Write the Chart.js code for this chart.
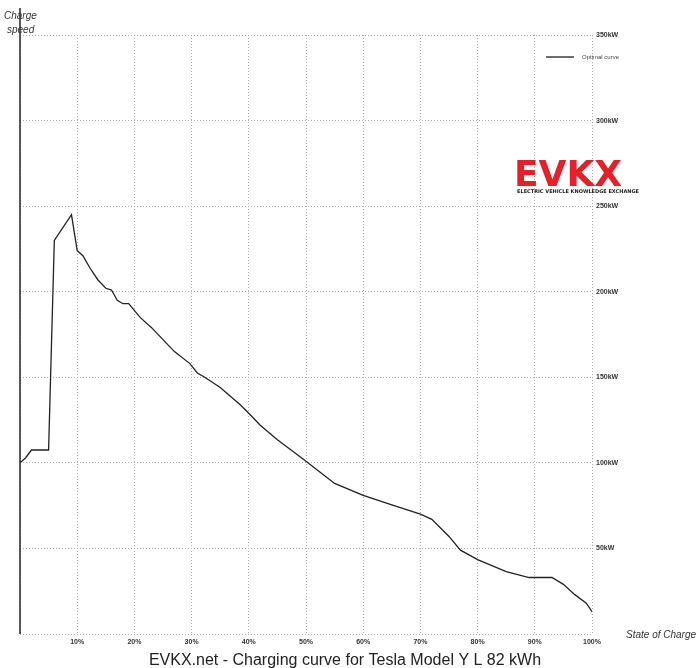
<!DOCTYPE html>
<html>
<head>
<meta charset="utf-8">
<script src="https://cdn.jsdelivr.net/npm/chart.js@4"></script>
<style>
  html, body { margin: 0; padding: 0; background: #fff; }
  #wrap { width: 700px; height: 668px; }
</style>
</head>
<body>
<div id="wrap"><canvas id="c" width="700" height="668"></canvas></div>
<script>
// state of charge (%) and charge power (kW)
const soc   = [0, 1, 2, 5, 6, 9, 10, 11, 12.2, 13.6, 15, 16, 17, 18, 19, 21, 23, 25, 27, 29.7, 31, 32.3, 35, 38.5, 40, 42, 45, 50, 55, 60, 65, 70, 72, 75, 77, 80, 85, 89, 93, 95, 97, 99, 100];
const power = [100, 103, 107.5, 107.5, 230, 245, 224, 221, 214, 207, 202, 201, 195, 193, 193, 185, 179, 172, 165, 158, 152.5, 150, 144, 134, 129, 122, 113.5, 101, 88, 81, 75.5, 70, 67, 57, 49, 43.5, 36.5, 33, 33, 29, 23, 18, 13];
const seriesName = "Optimal curve";
const chartTitle = "EVKX.net - Charging curve for Tesla Model Y L 82 kWh";

const extras = {
  id: 'extras',
  afterDraw(chart) {
    const ctx = chart.ctx, a = chart.chartArea;
    ctx.save();
    ctx.strokeStyle = '#222'; ctx.lineWidth = 1.5;
    ctx.beginPath(); ctx.moveTo(a.left, 8); ctx.lineTo(a.left, a.bottom); ctx.stroke();
    // legend
    ctx.lineWidth = 1.3;
    ctx.beginPath(); ctx.moveTo(546, 57); ctx.lineTo(574, 57); ctx.stroke();
    ctx.fillStyle = '#444';
    ctx.font = '6px "Liberation Sans", Arial';
    ctx.textAlign = 'left'; ctx.textBaseline = 'middle';
    ctx.fillText(chart.data.datasets[0].label, 582, 57);
    ctx.textBaseline = 'alphabetic';
    ctx.fillStyle = '#333';
    ctx.font = 'italic 10px "Liberation Sans", Arial';
    ctx.fillText('Charge', 4, 19);
    ctx.fillText('speed', 7, 33);
    ctx.fillText('State of Charge', 626, 638);
    ctx.fillStyle = '#222';
    ctx.font = '16px "Liberation Sans", Arial';
    ctx.textAlign = 'center';
    ctx.fillText(chartTitle, 345, 665);
    // logo
    ctx.fillStyle = '#e4202a';
    ctx.font = 'bold 36px "DejaVu Sans"';
    ctx.fillText('EVKX', 568, 186);
    ctx.fillStyle = '#222';
    ctx.font = 'bold 5px "DejaVu Sans"';
    ctx.fillText('ELECTRIC VEHICLE KNOWLEDGE EXCHANGE', 578, 193);
    ctx.restore();
  }
};

new Chart("c", {
  type: "line",
  data: {
    datasets: [{
      label: seriesName,
      data: soc.map((s, i) => ({x: s, y: power[i]})),
      borderColor: "#222",
      borderWidth: 1.3,
      pointRadius: 0,
      tension: 0,
      fill: false
    }]
  },
  options: {
    responsive: false,
    animation: false,
    layout: { padding: { left: 20, top: 35 } },
    plugins: {
      legend: { display: false },
      tooltip: { enabled: false }
    },
    scales: {
      x: {
        type: 'linear', min: 0, max: 100,
        afterFit: s => { s.height = 34; },
        border: { display: false, dash: [1, 2] },
        grid: { color: '#aaa', drawTicks: false },
        ticks: { stepSize: 10, padding: 4, color: '#333', font: { size: 7, weight: 'bold' },
                 callback: v => v === 0 ? '' : v + '%' }
      },
      y: {
        position: 'right', min: 0, max: 350,
        afterFit: s => { s.width = 108; },
        border: { display: false, dash: [1, 2] },
        grid: { color: '#aaa', drawTicks: false },
        ticks: { stepSize: 50, padding: 4, color: '#333', font: { size: 7, weight: 'bold' },
                 callback: v => v === 0 ? '' : v + 'kW' }
      }
    }
  },
  plugins: [extras]
});
</script>
</body>
</html>
